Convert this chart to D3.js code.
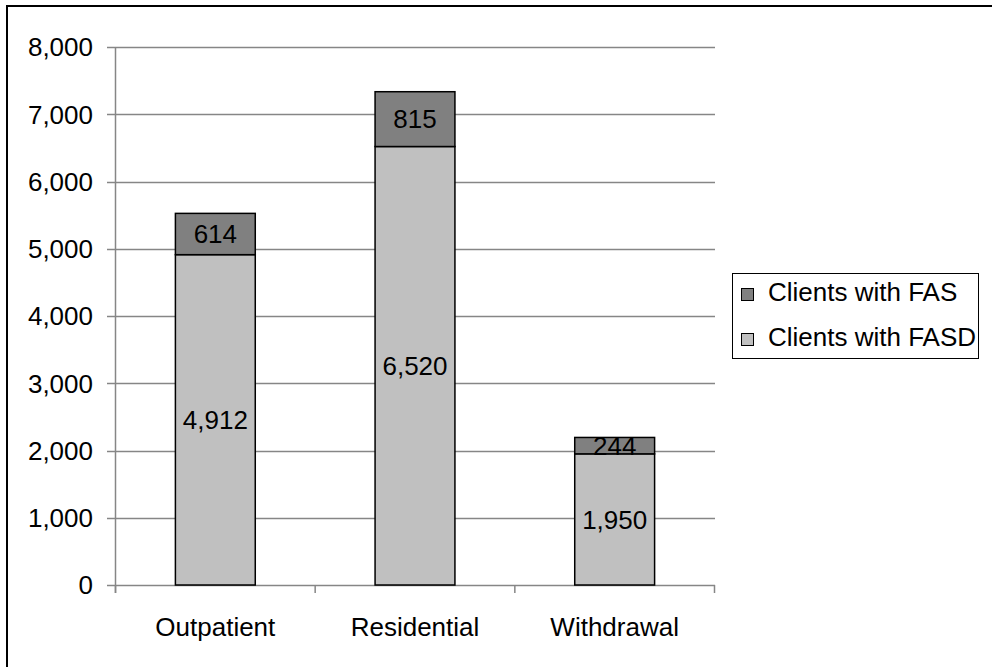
<!DOCTYPE html>
<html>
<head>
<meta charset="utf-8">
<script src="https://cdn.jsdelivr.net/npm/d3@7"></script>
<style>
  body { margin: 0; background: #fff; }
  svg { display: block; font-family: "Liberation Sans", Arial, sans-serif; }
</style>
</head>
<body>
<svg id="chart" width="992" height="667"></svg>
<script>
// dados
const categories = ["Outpatient", "Residential", "Withdrawal"];
const fasd = [4912, 6520, 1950];
const fas = [614, 815, 244];
const seriesNames = ["Clients with FAS", "Clients with FASD"];
const yTicks = [0, 1000, 2000, 3000, 4000, 5000, 6000, 7000, 8000];

const fontSize = 26;
const svg = d3.select("#chart");

// moldura externa
svg.append("rect")
    .attr("x", 7).attr("y", 6)
    .attr("width", 1000).attr("height", 700)
    .attr("fill", "none")
    .attr("stroke", "#000")
    .attr("stroke-width", 2);

const x = d3.scaleBand()
    .domain(categories)
    .range([115.5, 714.5])
    .paddingInner(0.6)
    .paddingOuter(0.3);

const y = d3.scaleLinear()
    .domain([0, 8000])
    .range([585, 47]);

// linhas de grade
svg.append("g")
    .selectAll("line")
    .data(yTicks)
    .enter().append("line")
    .attr("x1", 107).attr("x2", 715)
    .attr("y1", d => Math.round(y(d)) + 0.5)
    .attr("y2", d => Math.round(y(d)) + 0.5)
    .attr("stroke", "#868686")
    .attr("stroke-width", 1.5);

// eixo vertical
svg.append("line")
    .attr("x1", 115.5).attr("x2", 115.5)
    .attr("y1", y(8000)).attr("y2", 593)
    .attr("stroke", "#868686")
    .attr("stroke-width", 1.5);

// marcas do eixo x
svg.append("g")
    .selectAll("line")
    .data([0, 1, 2, 3])
    .enter().append("line")
    .attr("x1", i => 115.5 + i * x.step())
    .attr("x2", i => 115.5 + i * x.step())
    .attr("y1", 585).attr("y2", 593)
    .attr("stroke", "#868686")
    .attr("stroke-width", 1.5);

// rótulos do eixo y
svg.append("g")
    .selectAll("text")
    .data(yTicks)
    .enter().append("text")
    .attr("x", 93)
    .attr("y", d => y(d))
    .attr("dy", "0.36em")
    .attr("text-anchor", "end")
    .attr("font-size", fontSize)
    .text(d3.format(","));

// rótulos das categorias
svg.append("g")
    .selectAll("text")
    .data(categories)
    .enter().append("text")
    .attr("x", d => x(d) + x.bandwidth() / 2)
    .attr("y", 636)
    .attr("text-anchor", "middle")
    .attr("font-size", fontSize)
    .text(d => d);

const rows = categories.map((c, i) => ({ cat: c, fasd: fasd[i], fas: fas[i] }));

// barras FASD
svg.append("g")
    .selectAll("rect")
    .data(rows)
    .enter().append("rect")
    .attr("x", d => x(d.cat))
    .attr("y", d => y(d.fasd))
    .attr("width", x.bandwidth())
    .attr("height", d => y(0) - y(d.fasd))
    .attr("fill", "#c0c0c0")
    .attr("stroke", "#000")
    .attr("stroke-width", 1.5);

// barras FAS
svg.append("g")
    .selectAll("rect")
    .data(rows)
    .enter().append("rect")
    .attr("x", d => x(d.cat))
    .attr("y", d => y(d.fasd + d.fas))
    .attr("width", x.bandwidth())
    .attr("height", d => y(d.fasd) - y(d.fasd + d.fas))
    .attr("fill", "#808080")
    .attr("stroke", "#000")
    .attr("stroke-width", 1.5);

// valores
svg.append("g")
    .selectAll("text")
    .data(rows)
    .enter().append("text")
    .attr("x", d => x(d.cat) + x.bandwidth() / 2)
    .attr("y", d => y(d.fasd / 2))
    .attr("dy", "0.36em")
    .attr("text-anchor", "middle")
    .attr("font-size", fontSize)
    .text(d => d3.format(",")(d.fasd));

svg.append("g")
    .selectAll("text")
    .data(rows)
    .enter().append("text")
    .attr("x", d => x(d.cat) + x.bandwidth() / 2)
    .attr("y", d => y(d.fasd + d.fas / 2))
    .attr("dy", "0.36em")
    .attr("text-anchor", "middle")
    .attr("font-size", fontSize)
    .text(d => d3.format(",")(d.fas));

// legenda
const legend = svg.append("g");
legend.append("rect")
    .attr("x", 732.5).attr("y", 273.5)
    .attr("width", 246).attr("height", 85)
    .attr("fill", "#fff")
    .attr("stroke", "#000")
    .attr("stroke-width", 1);

const legendColors = ["#808080", "#c0c0c0"];
seriesNames.forEach((name, i) => {
    const cy = 292 + i * 45;
    legend.append("rect")
        .attr("x", 741.5).attr("y", cy - 3.5)
        .attr("width", 12).attr("height", 12)
        .attr("fill", legendColors[i])
        .attr("stroke", "#000")
        .attr("stroke-width", 1);
    legend.append("text")
        .attr("x", 768)
        .attr("y", cy)
        .attr("dy", "0.36em")
        .attr("font-size", fontSize)
        .text(name);
});
</script>
</body>
</html>
